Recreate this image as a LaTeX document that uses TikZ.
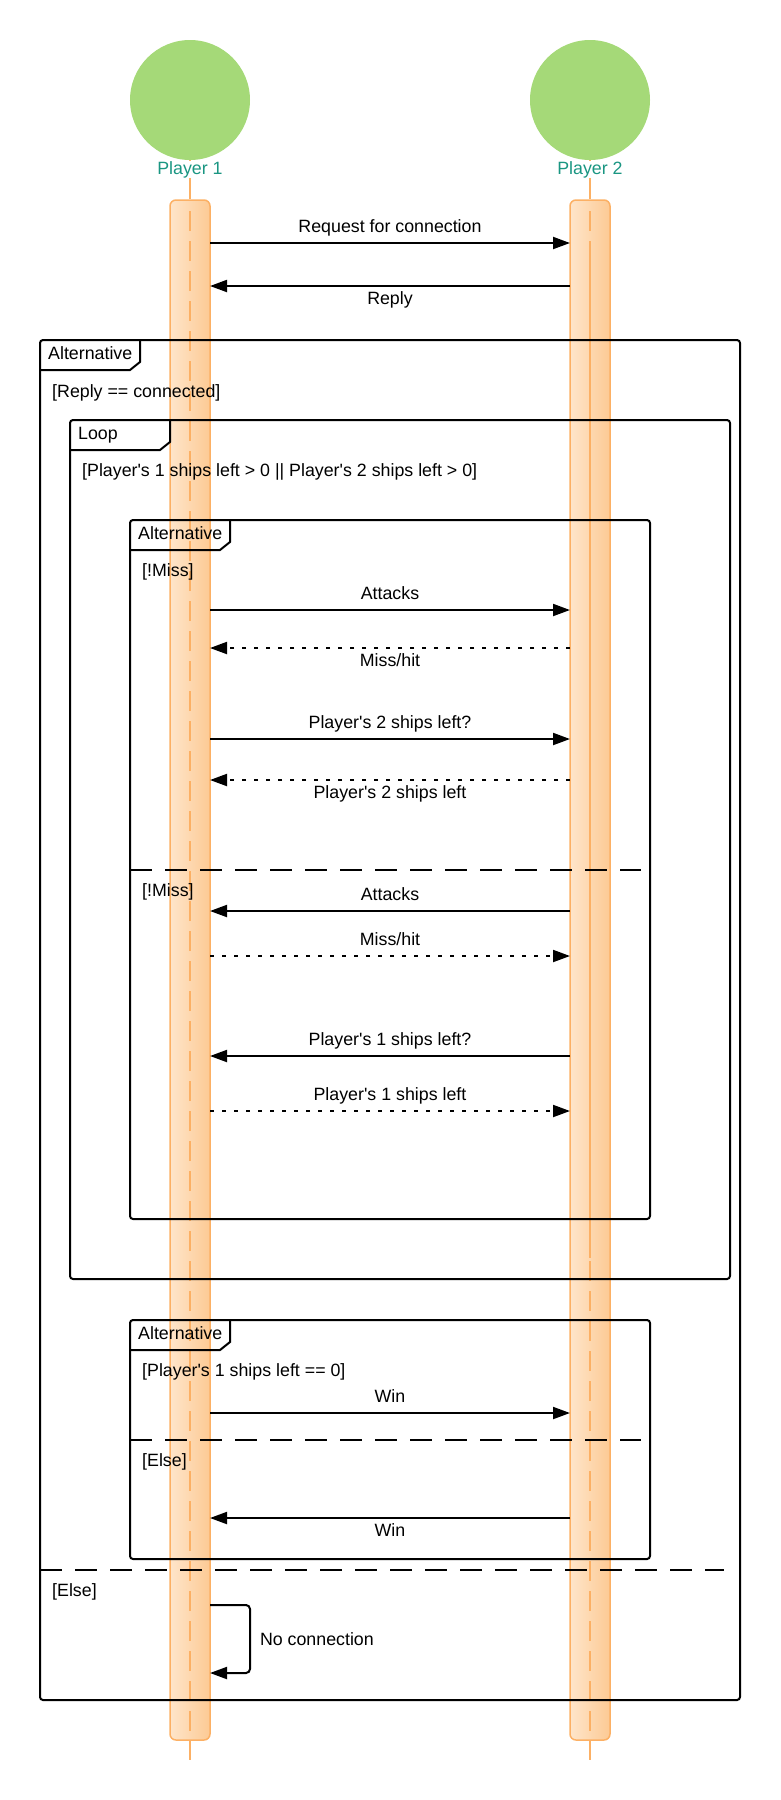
\documentclass[tikz,border=0pt]{standalone}
\usepackage{fontspec}
\setmainfont{Liberation Sans}[Ligatures=TeXOff]
\usetikzlibrary{arrows.meta}
\definecolor{actgreen}{RGB}{165,217,120}
\definecolor{actteal}{RGB}{26,150,130}
\definecolor{barorange}{RGB}{252,176,100}
\definecolor{barlight}{RGB}{254,229,202}
\definecolor{bardark}{RGB}{253,202,148}
\tikzset{%
  actorhead/.style = {circle, fill=actgreen, minimum size=120pt, inner sep=0pt}, % Player
  actorname/.style = {text=actteal, fill=white, inner sep=0pt, anchor=base},
  actbar/.style    = {draw=barorange, line width=1.5pt, rounded corners=6pt,
    minimum width=40pt, minimum height=1540pt,
    left color=barlight, right color=bardark}, % Activation
  lifeline/.style  = {barorange, line width=1.5pt},
  sdframe/.style   = {draw, line width=2pt, rounded corners=3pt},
  sdtab/.style     = {draw, line width=2pt},
  sdsplit/.style   = {line width=2pt, dash pattern=on 22pt off 13pt}, % Else line
  guard/.style     = {anchor=base west, inner sep=0pt},
  msg/.style       = {-{Triangle[length=17pt, width=12pt]}, line width=2pt},
  dotmsg/.style    = {dash pattern=on 4pt off 8pt}, % Answer
  lblup/.style     = {anchor=base, yshift=11pt},
  lbldown/.style   = {anchor=base, yshift=-18pt}
}
\begin{document}
\begin{tikzpicture}[x=1pt, y=-1pt, font=\fontsize{17.8}{21}\selectfont]
  \useasboundingbox (0,0) rectangle (780,1800);

  \draw node at (190,970) [actbar] (bar1) {};
  \draw node at (590,970) [actbar] (bar2) {};
  \draw node at (190,100) [actorhead] (p1) {};
  \draw node at (590,100) [actorhead] (p2) {};
  \draw[lifeline] (p1) -- (bar1);
  \draw[lifeline] (p2) -- (bar2);
  \draw node at (190,174) [actorname] (n1) {Player 1};
  \draw node at (590,174) [actorname] (n2) {Player 2};

  \draw[lifeline, dash pattern=on 20pt off 10pt] (190,211) -- (190,1760);
  \draw[lifeline, dash pattern=on 20pt off 10pt] (590,211) -- (590,1760);
  \draw[lifeline] (590,241) -- (590,1258);

  % frames
  \foreach \xa/\ya/\xb/\yb/\t [count=\i] in {40/340/740/1700/Alternative,
      70/420/730/1279/Loop, 130/520/650/1219/Alternative,
      130/1320/650/1559/Alternative}{
    \draw[sdframe] (\xa,\ya) rectangle (\xb,\yb);
    \draw[sdtab] (\xa+100,\ya) -- ++(0,22) -- ++(-10,8) -- (\xa,\ya+30);
    \draw node at (\xa+8,\ya+19) [guard] (tab\i) {\t};
  }
  \draw[sdsplit] (130,870) -- (641,870);
  \draw[sdsplit] (130,1440) -- (641,1440);
  \draw[sdsplit] (40,1570) -- (724,1570);

  \draw node at (52,397) [guard] (g1) {[Reply == connected]};
  \draw node at (82,476) [guard] (g2) {[Player's 1 ships left > 0 || Player's 2 ships left > 0]};
  \draw node at (142,576) [guard] (g3) {[!Miss]};
  \draw node at (142,896) [guard] (g4) {[!Miss]};
  \draw node at (142,1376) [guard] (g5) {[Player's 1 ships left == 0]};
  \draw node at (142,1466) [guard] (g6) {[Else]};
  \draw node at (52,1596) [guard] (g7) {[Else]};

  % messages
  \foreach \y/\a/\b/\s/\p/\t [count=\i] in {
      243/1/2/solid/lblup/{Request for connection},
      286/2/1/solid/lbldown/Reply,
      610/1/2/solid/lblup/Attacks,
      648/2/1/dotmsg/lbldown/{Miss/hit},
      739/1/2/solid/lblup/{Player's 2 ships left?},
      780/2/1/dotmsg/lbldown/{Player's 2 ships left},
      911/2/1/solid/lblup/Attacks,
      956/1/2/dotmsg/lblup/{Miss/hit},
      1056/2/1/solid/lblup/{Player's 1 ships left?},
      1111/1/2/dotmsg/lblup/{Player's 1 ships left},
      1413/1/2/solid/lblup/Win,
      1518/2/1/solid/lbldown/Win}{
    \coordinate (p1-\i) at (210,\y);
    \coordinate (p2-\i) at (570,\y);
    \draw[msg, \s] (p\a-\i) -- node[\p] {\t} (p\b-\i);
  }

  \coordinate (nc1) at (210,1605);
  \coordinate (nc2) at (210,1673);
  \draw[msg, rounded corners=4pt] (nc1) -- ++(40,0)
    |- node[pos=0.25, anchor=west, inner sep=0pt, xshift=9pt] {No connection} (nc2);
\end{tikzpicture}
\end{document}
